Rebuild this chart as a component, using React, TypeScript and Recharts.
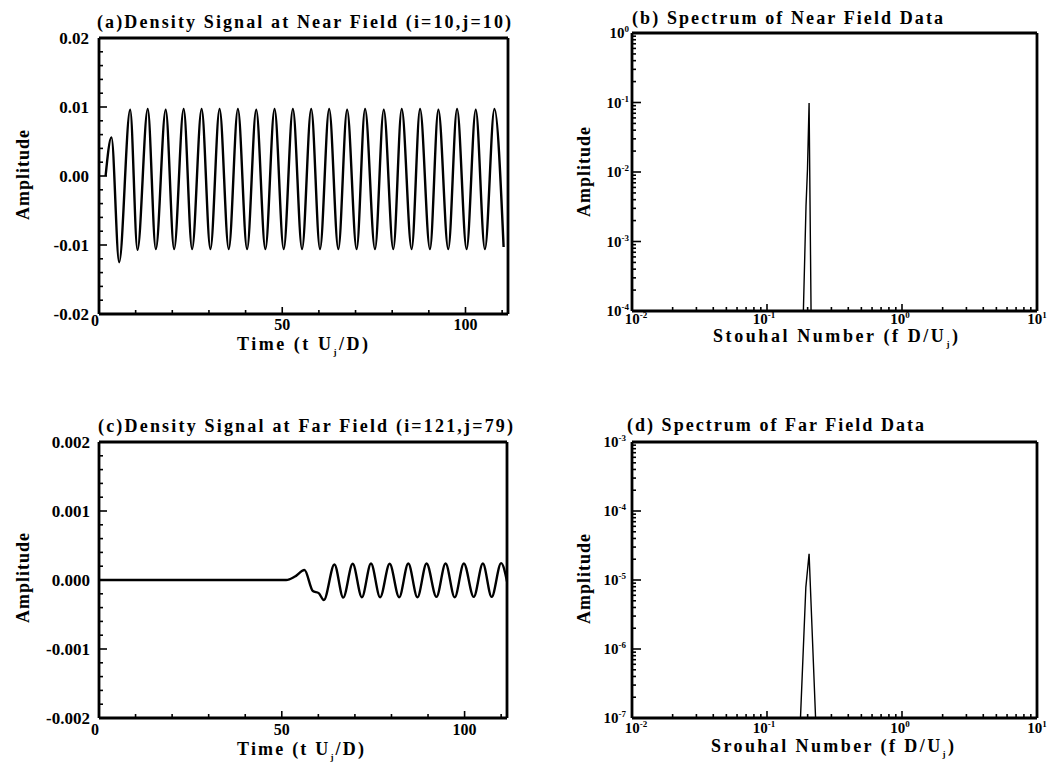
import React from 'react';
import { LineChart, Line, XAxis, YAxis } from 'recharts';

const FONT = '"Liberation Serif", "Times New Roman", serif';

// (a) density signal at near field (i=10, j=10)
const nearTime = [
  1.8, 3.4, 5.5,
  8.5, 10.5, 13.3, 15.5, 18.2, 20.5, 23.1, 25.4, 28.0, 30.4, 32.9, 35.4, 37.9, 40.4, 42.9, 45.4,
  47.9, 50.4, 52.9, 55.4, 57.9, 60.3, 62.8, 65.3, 67.7, 70.3, 72.6, 75.3, 77.7, 80.3, 82.6, 85.3,
  87.6, 90.3, 92.6, 95.3, 97.7, 100.3, 102.8, 105.3, 107.9, 110.4,
];
const nearAmp = [
  0, 0.0056, -0.0125,
  0.0096, -0.0107, 0.0097, -0.0106, 0.0096, -0.0106, 0.0097, -0.0106, 0.0097, -0.0106, 0.0097, -0.0106,
  0.0097, -0.0106, 0.0096, -0.0106, 0.0097, -0.0106, 0.0097, -0.0106, 0.0097, -0.0106, 0.0097, -0.0106,
  0.0096, -0.0106, 0.0097, -0.0106, 0.0096, -0.0106, 0.0097, -0.0106, 0.0097, -0.0106, 0.0096, -0.0106,
  0.0097, -0.0106, 0.0096, -0.0106, 0.0097, -0.0103,
];

// (c) density signal at far field (i=121, j=79)
const farTime = [
  0, 51.2, 53.6, 56.2, 58.5, 60.1, 61.5,
  64.4, 66.8, 69.4, 71.9, 74.4, 76.9, 79.5, 82.1, 84.6, 87.1, 89.6, 92.3, 94.8, 97.3, 99.8,
  102.5, 105.0, 107.4, 110.0, 111.6,
];
const farAmp = [
  0, 0, 0.00005, 0.000145, -0.00016, -0.00019, -0.00029,
  0.000225, -0.000255, 0.000235, -0.00025, 0.00024, -0.00025, 0.000235, -0.00025, 0.00024, -0.00025,
  0.00024, -0.000245, 0.00024, -0.00025, 0.00024, -0.000245, 0.00024, -0.000245, 0.000245, -0.00002,
];

// (b) spectrum of near field data
const nearSt = [0.186, 0.1945, 0.1995, 0.205, 0.212];
const nearSpec = [1e-4, 3.2e-3, 1.1e-2, 9.8e-2, 1e-4];

// (d) spectrum of far field data
const farSt = [0.177, 0.194, 0.205, 0.229];
const farSpec = [1e-7, 7.9e-6, 2.4e-5, 1e-7];

const timeMajors = [0, 50, 100];
const nearAmpMajors = [-0.02, -0.01, 0, 0.01, 0.02];
const nearAmpLabels = ['-0.02', '-0.01', '0.00', '0.01', '0.02'];
const farAmpMajors = [-0.002, -0.001, 0, 0.001, 0.002];
const farAmpLabels = ['-0.002', '-0.001', '0.000', '0.001', '0.002'];
const stMajors = [0.01, 0.1, 1, 10];
const nearSpecMajors = [1e-4, 1e-3, 1e-2, 1e-1, 1];
const farSpecMajors = [1e-7, 1e-6, 1e-5, 1e-4, 1e-3];

// small nudges of the decade labels on the Strouhal axis, as printed
const stLabelShift = [4, -3, -2, 0];

const rangeTicks = (lo: number, hi: number, step: number) => {
  const out: number[] = [];
  const n = Math.round((hi - lo) / step);
  for (let i = 0; i <= n; i++) out.push(+(lo + i * step).toFixed(6));
  return out;
};

const logTicks = (dLo: number, dHi: number) => {
  const out: number[] = [];
  for (let d = dLo; d < dHi; d++) {
    for (let m = 1; m <= 9; m++) out.push(+(m * Math.pow(10, d)).toPrecision(6));
  }
  out.push(Math.pow(10, dHi));
  return out;
};

const majorIndex = (v: number, majors: number[]) =>
  majors.findIndex((m) => Math.abs(v - m) <= 1e-12 + Math.abs(m) * 1e-6);

const zip = (xs: number[], ys: number[]) => xs.map((x, i) => ({ x, v: ys[i] }));

const textStyle = { fontFamily: FONT, fontWeight: 700, fill: '#000' } as const;

const PowerLabel = ({ x, y, v, anchor }: { x: number; y: number; v: number; anchor: 'middle' | 'end' }) => {
  const e = Math.round(Math.log10(v));
  return (
    <text x={x} y={y} textAnchor={anchor} fontSize={15} {...textStyle}>
      10
      <tspan dy={-6} fontSize={9}>
        {e}
      </tspan>
    </text>
  );
};

type AxisCfg = {
  majors: number[];
  majorLen: number;
  minorLen: number;
  label: (i: number, v: number, x: number, y: number) => React.ReactNode;
};

const makeXTick = (cfg: AxisCfg) => (props: any) => {
  const { x, y, payload } = props;
  const i = majorIndex(payload.value, cfg.majors);
  return (
    <g>
      <line x1={x} x2={x} y1={y} y2={y - (i >= 0 ? cfg.majorLen : cfg.minorLen)} stroke="#000" strokeWidth={1.6} />
      {i >= 0 && cfg.label(i, payload.value, x, y)}
    </g>
  );
};

const makeYTick = (cfg: AxisCfg) => (props: any) => {
  const { x, y, payload } = props;
  const i = majorIndex(payload.value, cfg.majors);
  return (
    <g>
      <line x1={x} x2={x + (i >= 0 ? cfg.majorLen : cfg.minorLen)} y1={y} y2={y} stroke="#000" strokeWidth={1.6} />
      {i >= 0 && cfg.label(i, payload.value, x, y)}
    </g>
  );
};

type PanelProps = {
  left: number;
  top: number;
  plot: { l: number; t: number; r: number; b: number };
  data: { x: number; v: number }[];
  xDomain: [number, number];
  yDomain: [number, number];
  log: boolean;
  xTicks: number[];
  yTicks: number[];
  xCfg: AxisCfg;
  yCfg: AxisCfg;
  curve: 'monotone' | 'linear';
  lineWidth: number;
};

const frame = { stroke: '#000', strokeWidth: 2.8 };

function Panel(p: PanelProps) {
  const W = 526;
  const H = 380;
  const scale = p.log ? 'log' : 'linear';
  return (
    <div style={{ position: 'absolute', left: p.left, top: p.top }}>
      <LineChart
        width={W}
        height={H}
        data={p.data}
        margin={{ top: p.plot.t - 1, right: W - p.plot.r - 1, left: 0, bottom: 0 }}
      >
        <XAxis
          dataKey="x"
          type="number"
          scale={scale}
          domain={p.xDomain}
          allowDataOverflow
          ticks={p.xTicks}
          interval={0}
          height={H - p.plot.b}
          axisLine={frame}
          tickLine={false}
          tickSize={0}
          tickMargin={0}
          tick={makeXTick(p.xCfg)}
        />
        <XAxis
          xAxisId="top"
          orientation="top"
          dataKey="x"
          type="number"
          scale={scale}
          domain={p.xDomain}
          allowDataOverflow
          height={1}
          axisLine={frame}
          tickLine={false}
          tick={false}
        />
        <YAxis
          type="number"
          scale={scale}
          domain={p.yDomain}
          allowDataOverflow
          ticks={p.yTicks}
          interval={0}
          width={p.plot.l}
          axisLine={frame}
          tickLine={false}
          tickSize={0}
          tickMargin={0}
          tick={makeYTick(p.yCfg)}
        />
        <YAxis
          yAxisId="right"
          orientation="right"
          type="number"
          scale={scale}
          domain={p.yDomain}
          allowDataOverflow
          width={1}
          axisLine={frame}
          tickLine={false}
          tick={false}
        />
        <Line
          dataKey="v"
          type={p.curve}
          stroke="#000"
          strokeWidth={p.lineWidth}
          dot={false}
          activeDot={false}
          isAnimationActive={false}
        />
      </LineChart>
    </div>
  );
}

const linearXCfg = (zeroDy: number, below: number): AxisCfg => ({
  majors: timeMajors,
  majorLen: 7,
  minorLen: 4,
  label: (_i, v, x, y) => (
    <text x={v === 0 ? x - 4 : x} y={y + below + (v === 0 ? zeroDy : 0)} textAnchor="middle" fontSize={16} {...textStyle}>
      {v}
    </text>
  ),
});

const linearYCfg = (majors: number[], labels: string[], gap: number): AxisCfg => ({
  majors,
  majorLen: 8,
  minorLen: 4,
  label: (i, _v, x, y) => (
    <text x={x - gap} y={y + 6} textAnchor="end" fontSize={17} {...textStyle}>
      {labels[i]}
    </text>
  ),
});

const logXCfg = (below: number): AxisCfg => ({
  majors: stMajors,
  majorLen: 7,
  minorLen: 4,
  label: (i, v, x, y) => <PowerLabel x={x + stLabelShift[i]} y={y + below} v={v} anchor="middle" />,
});

const logYCfg = (majors: number[], gap: number): AxisCfg => ({
  majors,
  majorLen: 9,
  minorLen: 4,
  label: (_i, v, x, y) => <PowerLabel x={x - gap} y={y + 5} v={v} anchor="end" />,
});

const Title = ({ x, y, len, children }: { x: number; y: number; len: number; children: React.ReactNode }) => (
  <text x={x} y={y} fontSize={18} textLength={len} lengthAdjust="spacing" {...textStyle}>
    {children}
  </text>
);

const AmpLabel = ({ x, cy }: { x: number; cy: number }) => (
  <text
    transform={`translate(${x},${cy}) rotate(-90)`}
    textAnchor="middle"
    fontSize={18}
    textLength={90}
    lengthAdjust="spacing"
    {...textStyle}
  >
    Amplitude
  </text>
);

// axis title with a subscript j after the U
const SubLabel = ({ x, y, len, head, tail }: { x: number; y: number; len: number; head: string; tail: string }) => (
  <text x={x} y={y} fontSize={18} textLength={len} lengthAdjust="spacing" {...textStyle}>
    {head}
    <tspan dy={5} fontSize={9}>
      j
    </tspan>
    <tspan dy={-5}>{tail}</tspan>
  </text>
);

export default function App() {
  return (
    <div style={{ position: 'absolute', left: 0, top: 0, width: 1052, height: 765, background: '#fff' }}>
      <Panel
        left={0}
        top={0}
        plot={{ l: 99, t: 38, r: 508, b: 314 }}
        data={zip(nearTime, nearAmp)}
        xDomain={[0, 111.6]}
        yDomain={[-0.02, 0.02]}
        log={false}
        xTicks={rangeTicks(0, 110, 10)}
        yTicks={rangeTicks(-0.02, 0.02, 0.002)}
        xCfg={linearXCfg(-4, 16)}
        yCfg={linearYCfg(nearAmpMajors, nearAmpLabels, 10)}
        curve="monotone"
        lineWidth={2.4}
      />
      <Panel
        left={526}
        top={0}
        plot={{ l: 106, t: 33, r: 511, b: 311 }}
        data={zip(nearSt, nearSpec)}
        xDomain={[0.01, 10]}
        yDomain={[1e-4, 1]}
        log
        xTicks={logTicks(-2, 1)}
        yTicks={logTicks(-4, 0)}
        xCfg={logXCfg(13)}
        yCfg={logYCfg(nearSpecMajors, 3)}
        curve="linear"
        lineWidth={1.4}
      />
      <Panel
        left={0}
        top={385}
        plot={{ l: 99, t: 57, r: 507, b: 333 }}
        data={zip(farTime, farAmp)}
        xDomain={[0, 111.6]}
        yDomain={[-0.002, 0.002]}
        log={false}
        xTicks={rangeTicks(0, 110, 10)}
        yTicks={rangeTicks(-0.002, 0.002, 0.0002)}
        xCfg={linearXCfg(0, 17)}
        yCfg={linearYCfg(farAmpMajors, farAmpLabels, 9)}
        curve="monotone"
        lineWidth={2.4}
      />
      <Panel
        left={526}
        top={385}
        plot={{ l: 106, t: 57, r: 511, b: 333 }}
        data={zip(farSt, farSpec)}
        xDomain={[0.01, 10]}
        yDomain={[1e-7, 1e-3]}
        log
        xTicks={logTicks(-2, 1)}
        yTicks={logTicks(-7, -3)}
        xCfg={logXCfg(15)}
        yCfg={logYCfg(farSpecMajors, 6)}
        curve="linear"
        lineWidth={1.4}
      />
      <svg
        width={1052}
        height={765}
        style={{ position: 'absolute', left: 0, top: 0, pointerEvents: 'none' }}
      >
        <Title x={97} y={28} len={414}>(a)Density Signal at Near Field (i=10,j=10)</Title>
        <Title x={632} y={24} len={311}>(b) Spectrum of Near Field Data</Title>
        <Title x={98} y={432} len={415}>(c)Density Signal at Far Field (i=121,j=79)</Title>
        <Title x={627} y={431} len={297}>(d) Spectrum of Far Field Data</Title>

        <AmpLabel x={29} cy={175} />
        <AmpLabel x={590} cy={172} />
        <AmpLabel x={29} cy={578} />
        <AmpLabel x={590} cy={579} />

        <SubLabel x={237} y={350} len={131} head="Time (t U" tail="/D)" />
        <SubLabel x={237} y={755} len={127} head="Time (t U" tail="/D)" />
        <SubLabel x={713} y={342} len={245} head="Stouhal Number (f D/U" tail=")" />
        <SubLabel x={711} y={752} len={243} head="Srouhal Number (f D/U" tail=")" />
      </svg>
    </div>
  );
}
